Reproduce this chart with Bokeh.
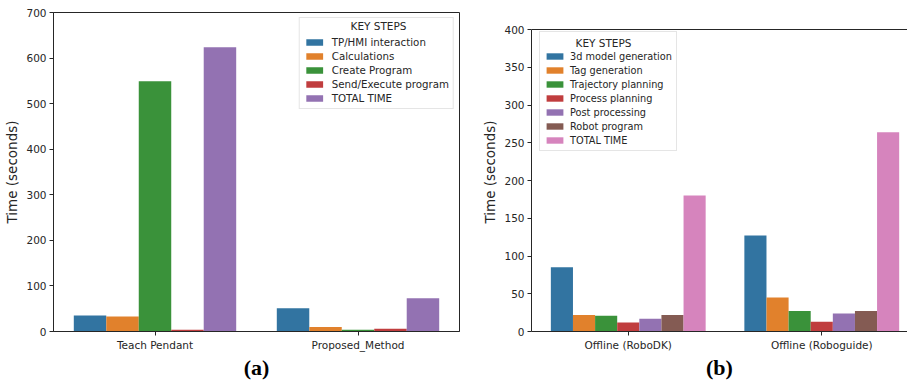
from bokeh.plotting import figure
from bokeh.layouts import row
from bokeh.models import FixedTicker, Span, ColumnDataSource, Range1d, Label
from bokeh.embed import file_html
from bokeh.resources import INLINE

# ---------------- data ----------------
left_categories = ["Teach Pendant", "Proposed_Method"]
left_steps = ["TP/HMI interaction", "Calculations", "Create Program",
              "Send/Execute program", "TOTAL TIME"]
tp_hmi = [35, 51]
calculations = [33, 10]
create_program = [549, 4]
send_execute = [4, 6]
total_left = [624, 73]
left_values = [tp_hmi, calculations, create_program, send_execute, total_left]
left_ticks = [0, 100, 200, 300, 400, 500, 600, 700]

right_categories = ["Offline (RoboDK)", "Offline (Roboguide)"]
right_steps = ["3d model generation", "Tag generation", "Trajectory planning",
               "Process planning", "Post processing", "Robot program", "TOTAL TIME"]
model_3d = [85, 127]
tag_generation = [22, 45]
trajectory_planning = [21, 27]
process_planning = [12, 13]
post_processing = [17, 24]
robot_program = [22, 27]
total_right = [180, 264]
right_values = [model_3d, tag_generation, trajectory_planning, process_planning,
                post_processing, robot_program, total_right]
right_ticks = [0, 50, 100, 150, 200, 250, 300, 350, 400]

palette = ["#3274a1", "#e1812c", "#3a923a", "#c03d3e", "#9372b2", "#845b53", "#d684bd"]
left_colors = palette[:4] + [palette[4]]
right_colors = palette[:7]

AX = "#262626"
TXT = "#262626"

# shared frame (row aligns frames): top 12, bottom 331 -> 319 px tall
FRAME_H = 319
RIGHT_TOP_PAD = 17  # right axes start 17 px below the shared frame top


def make_panel(categories, steps, values, colors, yticks, xr, yr, w_, h_,
               borders, panel_label, full_box, title_xy, legend_font):
    p = figure(width=w_, height=h_, output_backend="svg", toolbar_location=None,
               x_range=Range1d(*xr), y_range=Range1d(*yr),
               min_border_left=borders[0], min_border_right=borders[1],
               min_border_top=borders[2], min_border_bottom=borders[3])
    n = len(steps)
    w = 0.8 / n
    for i, (step, vals, col) in enumerate(zip(steps, values, colors)):
        xs = [j - 0.4 + w * (i + 0.5) for j in range(len(categories))]
        src = ColumnDataSource(dict(x=xs, top=vals))
        p.vbar(x="x", top="top", width=w, source=src, fill_color=col,
               line_color=None, legend_label=step)
    p.xgrid.visible = False
    p.ygrid.visible = False
    p.xaxis.ticker = FixedTicker(ticks=list(range(len(categories))))
    p.xaxis.major_label_overrides = {j: c for j, c in enumerate(categories)}
    p.yaxis.ticker = FixedTicker(ticks=yticks)
    p.yaxis.bounds = (yticks[0], yticks[-1])
    for ax in (p.xaxis[0], p.yaxis[0]):
        ax.axis_line_color = AX
        ax.axis_line_width = 1
        ax.major_tick_line_color = AX
        ax.major_tick_out = 4
        ax.major_tick_in = 0
        ax.minor_tick_line_color = None
        ax.major_label_text_font = "DejaVu Sans"
        ax.major_label_text_font_size = "10.5px"
        ax.major_label_text_color = TXT
        ax.major_label_standoff = 3
    p.yaxis.axis_label = "Time (seconds)"
    p.yaxis.axis_label_text_font = "DejaVu Sans"
    p.yaxis.axis_label_text_font_style = "normal"
    p.yaxis.axis_label_text_font_size = "13.5px"
    p.yaxis.axis_label_text_color = TXT
    p.yaxis.axis_label_standoff = 3
    p.xaxis.axis_label = panel_label
    p.xaxis.axis_label_text_font = "Liberation Serif"
    p.xaxis.axis_label_text_font_style = "bold"
    p.xaxis.axis_label_text_font_size = "22px"
    p.xaxis.axis_label_text_color = "#000000"
    p.xaxis.axis_label_standoff = 1
    if full_box:
        p.outline_line_color = AX
        p.outline_line_width = 1
        p.outline_line_alpha = 1
    else:
        p.outline_line_color = None
        p.add_layout(Span(location=yticks[-1], dimension="width",
                          line_color=AX, line_width=1))
    lg = p.legend[0]
    lg.title = " "
    lg.title_text_font_size = "10.5px"
    lg.title_standoff = 2
    lg.label_text_font = "DejaVu Sans"
    lg.label_text_font_size = legend_font
    lg.label_text_color = TXT
    lg.glyph_width = 21
    lg.glyph_height = 8
    lg.label_height = 12
    lg.label_standoff = 7
    lg.spacing = 2
    lg.padding = 4
    lg.margin = 5
    lg.border_line_color = "#cccccc"
    lg.border_line_width = 1
    lg.background_fill_color = "white"
    lg.background_fill_alpha = 0
    p.add_layout(Label(x=title_xy[0], y=title_xy[1], x_units="screen", y_units="screen",
                       text="KEY STEPS", text_font="DejaVu Sans", text_font_size="10.5px",
                       text_color=TXT, text_align="center", text_baseline="middle",
                       level="overlay"))
    return p


left = make_panel(left_categories, left_steps, left_values, left_colors, left_ticks,
                  (-0.5, 1.5), (0, 700), 462, 383, (53, 3, 12, 52), "(a)", True,
                  (325, 306), "10.25px")
left.legend[0].location = "top_right"

r_top = right_ticks[-1] * FRAME_H / (FRAME_H - RIGHT_TOP_PAD)
right = make_panel(right_categories, right_steps, right_values, right_colors, right_ticks,
                   (-0.5, 1.443), (0, r_top), 445, 383, (69, 0, 12, 52), "(b)", False,
                   (72, 289), "9.75px")
right.legend[0].location = (8, 180)
right.legend[0].label_standoff = 5

layout = row(left, right)
open("out.html", "w").write(file_html(layout, INLINE))
